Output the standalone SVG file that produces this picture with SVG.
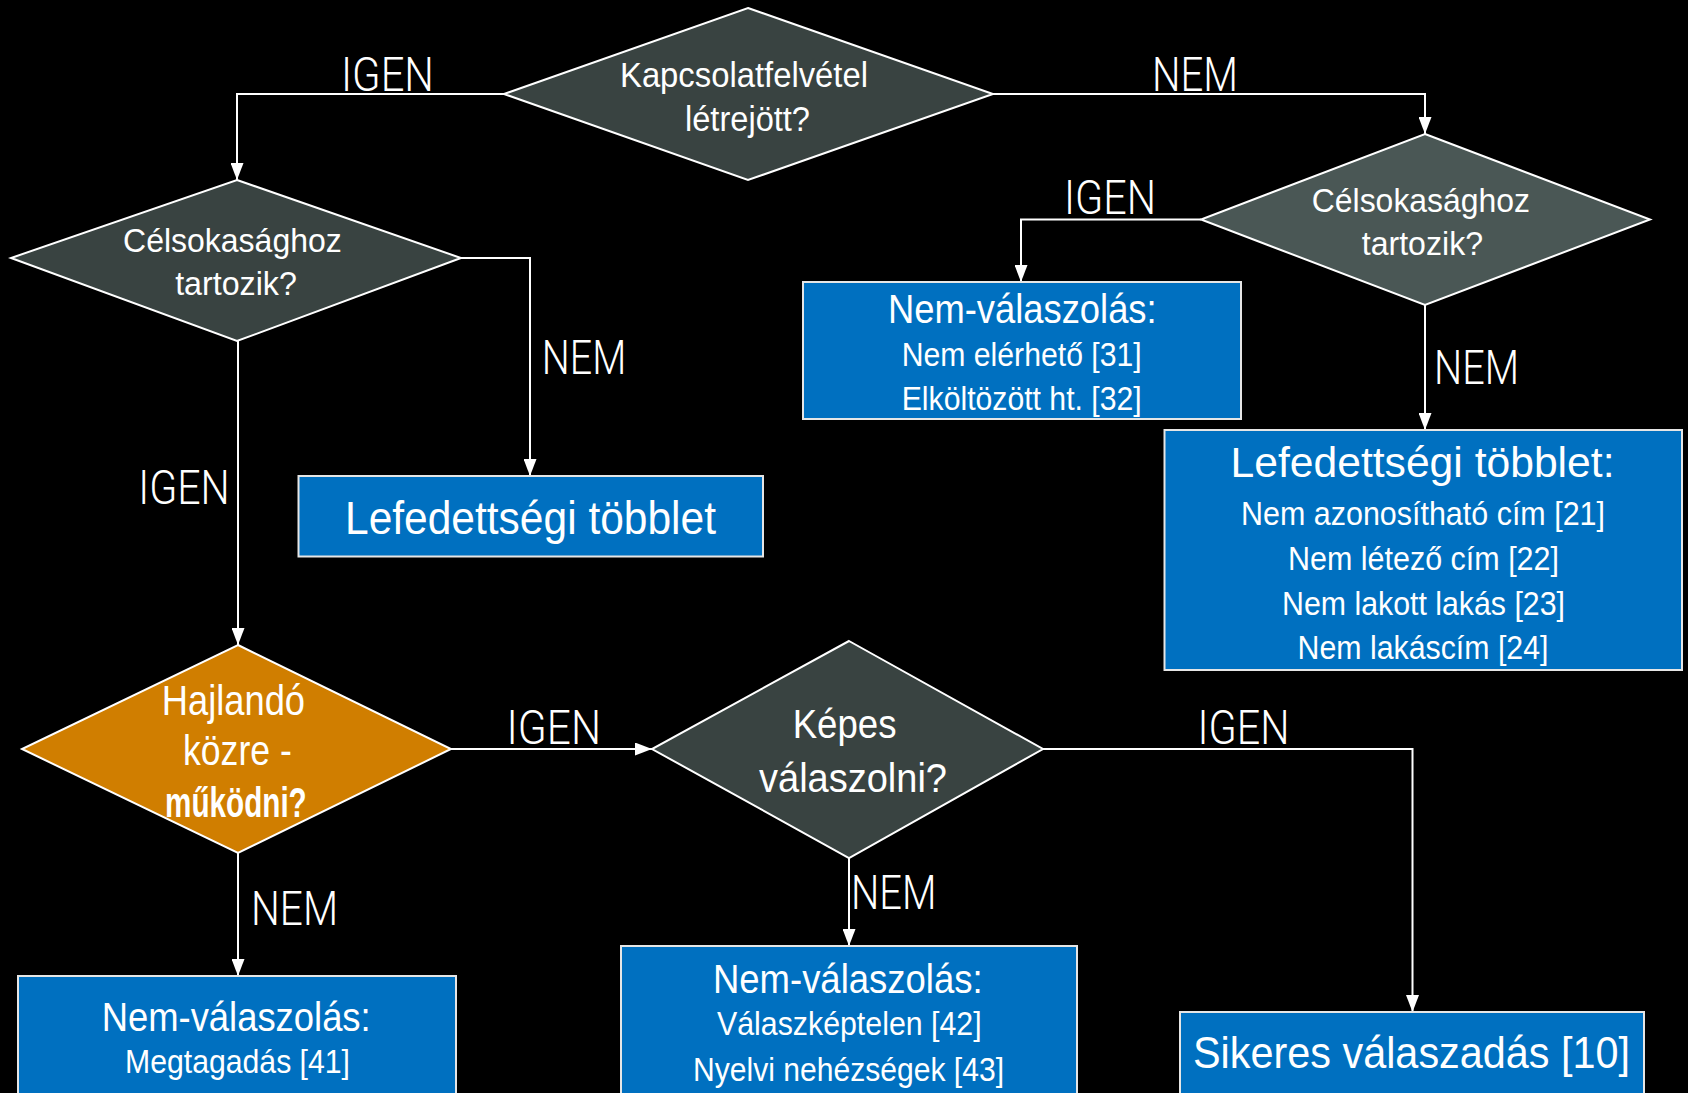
<svg xmlns="http://www.w3.org/2000/svg" width="1688" height="1093" viewBox="0 0 1688 1093">
<defs>
<marker id="arr" viewBox="0 0 17 13" refX="17" refY="6.5" markerWidth="17" markerHeight="13" markerUnits="userSpaceOnUse" orient="auto">
<path d="M0,0 L17,6.5 L0,13 z" fill="#ffffff"/>
</marker>
<style>
.dia{stroke:#ffffff;stroke-width:2}
.dk{fill:#394341}
.lt{fill:#4a5755}
.or{fill:#d07e00}
.box{fill:#0070c0;stroke:#e6e6e6;stroke-width:2}
.t{font-family:"Liberation Sans",Arial,sans-serif;fill:#ffffff;text-anchor:middle}
.lbl{font-family:"Roboto","Liberation Sans",sans-serif;font-weight:300;fill:#ffffff;text-anchor:middle;font-size:49px}
.con{fill:none;stroke:#ffffff;stroke-width:2;marker-end:url(#arr)}
</style>
</defs>
<rect x="0" y="0" width="1688" height="1093" fill="#000000"/>

<g id="connectors">
<path class="con" d="M504,94 H237 V180"/>
<path class="con" d="M993,94 H1425 V134"/>
<path class="con" d="M1201,219.5 H1021 V282"/>
<path class="con" d="M1425,305 V430"/>
<path class="con" d="M461,258 H530 V476"/>
<path class="con" d="M238,341 V645"/>
<path class="con" d="M451,749 H652"/>
<path class="con" d="M238,853 V976"/>
<path class="con" d="M1043,749 H1412.5 V1012"/>
<path class="con" d="M849,858 V946"/>
<text class="lbl" x="387.5" y="90.5" textLength="93" lengthAdjust="spacingAndGlyphs">IGEN</text>
<text class="lbl" x="1195" y="90.5" textLength="86" lengthAdjust="spacingAndGlyphs">NEM</text>
<text class="lbl" x="1110" y="213.5" textLength="92" lengthAdjust="spacingAndGlyphs">IGEN</text>
<text class="lbl" x="584" y="373.5" textLength="84.5" lengthAdjust="spacingAndGlyphs">NEM</text>
<text class="lbl" x="184" y="503.5" textLength="91.6" lengthAdjust="spacingAndGlyphs">IGEN</text>
<text class="lbl" x="1476.5" y="383.5" textLength="85" lengthAdjust="spacingAndGlyphs">NEM</text>
<text class="lbl" x="553.8" y="743.5" textLength="94.5" lengthAdjust="spacingAndGlyphs">IGEN</text>
<text class="lbl" x="1243.5" y="743.5" textLength="92" lengthAdjust="spacingAndGlyphs">IGEN</text>
<text class="lbl" x="294.5" y="924.5" textLength="87" lengthAdjust="spacingAndGlyphs">NEM</text>
<text class="lbl" x="893.7" y="908.5" textLength="85.5" lengthAdjust="spacingAndGlyphs">NEM</text>
</g>

<g id="n-kapcsolat">
<polygon class="dia dk" points="748,8 993,94 748,180 504,94"/>
<text class="t" font-size="35" x="744" y="86.7" textLength="248" lengthAdjust="spacingAndGlyphs">Kapcsolatfelvétel</text>
<text class="t" font-size="35" x="747.5" y="130.5" textLength="125" lengthAdjust="spacingAndGlyphs">létrejött?</text>
</g>

<g id="n-celsok-left">
<polygon class="dia dk" points="237,180 461,258 237,341 11,258"/>
<text class="t" font-size="32.5" x="232.4" y="251.7" textLength="218.7" lengthAdjust="spacingAndGlyphs">Célsokasághoz</text>
<text class="t" font-size="32.5" x="236" y="295" textLength="121.7" lengthAdjust="spacingAndGlyphs">tartozik?</text>
</g>

<g id="n-celsok-right">
<polygon class="dia lt" points="1425,134 1650,219.5 1425,305 1201,219.5"/>
<text class="t" font-size="32.5" x="1420.9" y="211.7" textLength="218.3" lengthAdjust="spacingAndGlyphs">Célsokasághoz</text>
<text class="t" font-size="32.5" x="1422.4" y="255" textLength="121.3" lengthAdjust="spacingAndGlyphs">tartozik?</text>
</g>

<g id="n-nemval-31">
<rect class="box" x="803" y="282" width="438" height="137"/>
<text class="t" font-size="40" x="1022.3" y="323.3" textLength="268.7" lengthAdjust="spacingAndGlyphs">Nem-válaszolás:</text>
<text class="t" font-size="33" x="1021.7" y="366" textLength="240" lengthAdjust="spacingAndGlyphs">Nem elérhető [31]</text>
<text class="t" font-size="33" x="1021.7" y="410" textLength="240" lengthAdjust="spacingAndGlyphs">Elköltözött ht. [32]</text>
</g>

<g id="n-lefed-right">
<rect class="box" x="1164.5" y="430" width="517.5" height="240"/>
<text class="t" font-size="43" x="1422.5" y="477" textLength="384" lengthAdjust="spacingAndGlyphs">Lefedettségi többlet:</text>
<text class="t" font-size="34" x="1423" y="525" textLength="364" lengthAdjust="spacingAndGlyphs">Nem azonosítható cím [21]</text>
<text class="t" font-size="34" x="1423.5" y="570" textLength="271" lengthAdjust="spacingAndGlyphs">Nem létező cím [22]</text>
<text class="t" font-size="34" x="1423.5" y="615" textLength="283" lengthAdjust="spacingAndGlyphs">Nem lakott lakás [23]</text>
<text class="t" font-size="34" x="1423" y="659" textLength="251" lengthAdjust="spacingAndGlyphs">Nem lakáscím [24]</text>
</g>

<g id="n-lefed-left">
<rect class="box" x="298.5" y="476" width="464.5" height="80.5"/>
<text class="t" font-size="47" x="530.5" y="534" textLength="371" lengthAdjust="spacingAndGlyphs">Lefedettségi többlet</text>
</g>

<g id="n-hajlando">
<polygon class="dia or" points="238,645 451,749 238,853 22,749"/>
<text class="t" font-size="42" x="233.4" y="715" textLength="143.3" lengthAdjust="spacingAndGlyphs">Hajlandó</text>
<text class="t" font-size="42" x="237.4" y="765" textLength="108.7" lengthAdjust="spacingAndGlyphs">közre -</text>
<text class="t" font-size="42" font-weight="bold" x="235.9" y="816.7" textLength="141.7" lengthAdjust="spacingAndGlyphs">működni?</text>
</g>

<g id="n-kepes">
<polygon class="dia dk" points="849,641 1043,749 849,858 652,749"/>
<text class="t" font-size="40" x="844.6" y="738" textLength="103.8" lengthAdjust="spacingAndGlyphs">Képes</text>
<text class="t" font-size="40" x="853" y="791.7" textLength="188" lengthAdjust="spacingAndGlyphs">válaszolni?</text>
</g>

<g id="n-nemval-41">
<rect class="box" x="18" y="976" width="438" height="130"/>
<text class="t" font-size="40" x="236.2" y="1030.7" textLength="269" lengthAdjust="spacingAndGlyphs">Nem-válaszolás:</text>
<text class="t" font-size="34" x="237.5" y="1073" textLength="225" lengthAdjust="spacingAndGlyphs">Megtagadás [41]</text>
</g>

<g id="n-nemval-42">
<rect class="box" x="621" y="946" width="456" height="160"/>
<text class="t" font-size="40" x="847.8" y="992.7" textLength="269.7" lengthAdjust="spacingAndGlyphs">Nem-válaszolás:</text>
<text class="t" font-size="34" x="849.3" y="1035" textLength="264.7" lengthAdjust="spacingAndGlyphs">Válaszképtelen [42]</text>
<text class="t" font-size="34" x="848.5" y="1080.7" textLength="311" lengthAdjust="spacingAndGlyphs">Nyelvi nehézségek [43]</text>
</g>

<g id="n-sikeres">
<rect class="box" x="1180" y="1012" width="464" height="94"/>
<text class="t" font-size="44" x="1411.5" y="1068" textLength="437" lengthAdjust="spacingAndGlyphs">Sikeres válaszadás [10]</text>
</g>
</svg>
